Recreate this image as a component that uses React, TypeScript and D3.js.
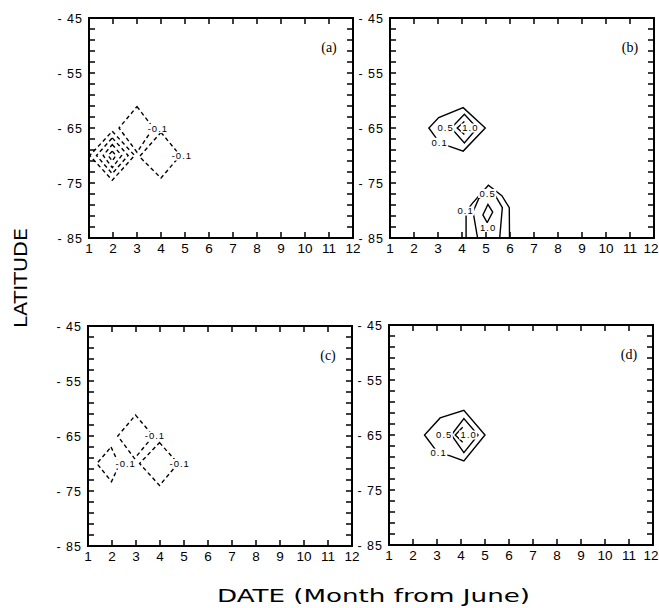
import React from "react";
import * as d3 from "d3";

// ---------- data ----------
const monthTicks = [1, 2, 3, 4, 5, 6, 7, 8, 9, 10, 11, 12];
const latLabelTicks = [-45, -55, -65, -75, -85];
const latMinorTicks = [-45, -47, -49, -51, -53, -55, -57, -59, -61, -63, -65, -67, -69, -71, -73, -75, -77, -79, -81, -83, -85];
const panelLetters = ["(a)", "(b)", "(c)", "(d)"];
const xAxisTitle = "DATE (Month from June)";
const yAxisTitle = "LATITUDE";

type Pt = [number, number];
type Contour = { level: number; closed: boolean; pts: Pt[] };
type CLabel = { text: string; m: number; lat: number };

// panel (a)
const contoursA: Contour[] = [
  { level: -0.1, closed: true, pts: [[3.0, -61.1], [3.68, -65], [3.0, -69.4], [2.25, -65]] },
  { level: -0.1, closed: true, pts: [[4.0, -65.8], [4.8, -70], [4.0, -74.1], [3.1, -70.2]] },
  { level: -0.1, closed: true, pts: [[1.97, -65.6], [2.9, -70], [1.97, -74.5], [1.03, -70]] },
  { level: -0.3, closed: true, pts: [[1.97, -66.8], [2.63, -70], [1.97, -73.3], [1.31, -70]] },
  { level: -0.5, closed: true, pts: [[1.97, -68.0], [2.36, -70], [1.97, -72.2], [1.59, -70]] },
  { level: -0.7, closed: true, pts: [[1.97, -69.2], [2.12, -70], [1.97, -71.0], [1.8, -70]] },
];
const labelsA: CLabel[] = [
  { text: "-0.1", m: 3.85, lat: -65.1 },
  { text: "-0.1", m: 4.85, lat: -70.1 },
];

// panel (b)
const contoursB: Contour[] = [
  { level: 0.1, closed: true, pts: [[2.62, -65], [3.05, -67.6], [3.45, -68.3], [4.05, -69.2], [4.97, -65], [4.05, -61.3], [3.03, -63.1]] },
  { level: 0.5, closed: true, pts: [[3.55, -65], [4.1, -62.5], [4.63, -65], [4.1, -67.7]] },
  { level: 1.0, closed: false, pts: [[4.1, -63.8], [3.8, -65], [4.1, -66.2]] },
  { level: 0.1, closed: false, pts: [[4.17, -85], [4.17, -80.2], [4.43, -78.7], [5.1, -75.4], [5.66, -77.3], [5.97, -79.5], [5.98, -85]] },
  { level: 0.5, closed: false, pts: [[4.65, -85], [4.46, -80.2], [4.7, -77.8], [5.05, -76.8], [5.39, -77.3], [5.68, -79.5], [5.57, -85]] },
  { level: 1.0, closed: true, pts: [[5.08, -78.9], [5.28, -80.3], [5.05, -82.2], [4.87, -80.8]] },
];
const labelsB: CLabel[] = [
  { text: "0.1", m: 3.05, lat: -67.6 },
  { text: "0.5", m: 3.3, lat: -65 },
  { text: "1.0", m: 4.33, lat: -65 },
  { text: "0.1", m: 4.13, lat: -80.1 },
  { text: "0.5", m: 5.05, lat: -76.9 },
  { text: "1.0", m: 5.07, lat: -83.1 },
];

// panel (c)
const contoursC: Contour[] = [
  { level: -0.1, closed: true, pts: [[2.98, -61.2], [3.72, -65], [2.94, -69.1], [2.24, -65]] },
  { level: -0.1, closed: true, pts: [[3.98, -66.2], [4.75, -70], [3.98, -74], [3.15, -70]] },
  { level: -0.1, closed: true, pts: [[1.96, -67], [2.3, -70.2], [1.98, -73.3], [1.37, -70]] },
];
const labelsC: CLabel[] = [
  { text: "-0.1", m: 3.77, lat: -65 },
  { text: "-0.1", m: 4.8, lat: -70 },
  { text: "-0.1", m: 2.55, lat: -70.1 },
];

// panel (d)
const contoursD: Contour[] = [
  { level: 0.1, closed: true, pts: [[2.48, -65], [3.03, -68.2], [3.55, -68.8], [4.12, -69.7], [5.0, -65], [4.12, -60.5], [3.13, -61.9]] },
  { level: 0.5, closed: true, pts: [[3.6, -65], [4.12, -62], [4.71, -65], [4.12, -68.2]] },
  { level: 1.0, closed: false, pts: [[4.07, -63.6], [3.76, -65], [4.07, -66.3]] },
];
const labelsD: CLabel[] = [
  { text: "0.1", m: 3.05, lat: -68.3 },
  { text: "0.5", m: 3.28, lat: -65 },
  { text: "1.0", m: 4.3, lat: -65 },
];

// ---------- layout ----------
const W = 659;
const H = 608;
const PW = 264;
const PH = 220;
const frames = [
  { x: 89, y: 18 },
  { x: 390, y: 18 },
  { x: 88, y: 326 },
  { x: 389, y: 325 },
];
const SANS = "'Liberation Sans', Arial, sans-serif";
const BIG = "'DejaVu Sans', sans-serif";
const SERIF = "'Liberation Serif', 'Times New Roman', serif";

const LABEL_FS = 9.5;
const LABEL_LS = 1;
const charW: Record<string, number> = { "0": 0.556, "1": 0.556, "5": 0.556, ".": 0.278, "-": 0.333 };
const textW = (t: string) =>
  t.split("").reduce((s, c) => s + (charW[c] ?? 0.556) * LABEL_FS + LABEL_LS, 0);

function Panel({ idx, contours, labels }: { idx: number; contours: Contour[]; labels: CLabel[] }) {
  const f = frames[idx];
  const x = d3.scaleLinear().domain([1, 12]).range([0, PW]);
  const y = d3.scaleLinear().domain([-45, -85]).range([0, PH]);
  const lineOpen = d3.line<Pt>().x((d) => x(d[0])).y((d) => y(d[1])).curve(d3.curveLinear);
  const lineClosed = d3.line<Pt>().x((d) => x(d[0])).y((d) => y(d[1])).curve(d3.curveLinearClosed);
  const maxLabelX = W - f.x - 8;
  return (
    <g transform={`translate(${f.x},${f.y})`}>
      <defs>
        <clipPath id={`clip${idx}`}>
          <rect x={0} y={0} width={PW} height={PH} />
        </clipPath>
      </defs>
      {/* contours */}
      <g clipPath={`url(#clip${idx})`}>
        {contours.map((c, i) => (
          <path
            key={i}
            d={(c.closed ? lineClosed : lineOpen)(c.pts) || ""}
            fill="none"
            stroke="#000"
            strokeWidth={1.4}
            strokeDasharray={c.level < 0 ? "4 3" : undefined}
            strokeLinejoin="miter"
          />
        ))}
      </g>
      {/* contour labels with knockout */}
      {labels.map((l, i) => {
        const w = textW(l.text);
        return (
          <g key={i}>
            <rect x={x(l.m) - w / 2 - 1} y={y(l.lat) - 4.5} width={w + 2} height={9} fill="#fff" />
            <text
              x={x(l.m) + LABEL_LS / 2}
              y={y(l.lat)}
              dy="0.35em"
              textAnchor="middle"
              fontFamily={SANS}
              fontSize={LABEL_FS}
              letterSpacing={LABEL_LS}
              fill="#000"
            >
              {l.text}
            </text>
          </g>
        );
      })}
      {/* ticks */}
      {monthTicks.map((m) => (
        <g key={"xt" + m}>
          <line x1={x(m)} x2={x(m)} y1={PH} y2={PH - 6} stroke="#000" strokeWidth={1.5} />
          <line x1={x(m)} x2={x(m)} y1={0} y2={6} stroke="#000" strokeWidth={1.5} />
          <text
            x={Math.min(x(m), maxLabelX)}
            y={PH + 15}
            textAnchor="middle"
            fontFamily={SANS}
            fontSize={13.5}
            fill="#000"
          >
            {m}
          </text>
        </g>
      ))}
      {latMinorTicks.map((v) => (
        <g key={"yt" + v}>
          <line x1={0} x2={6} y1={y(v)} y2={y(v)} stroke="#000" strokeWidth={1.5} />
          <line x1={PW} x2={PW - 6} y1={y(v)} y2={y(v)} stroke="#000" strokeWidth={1.5} />
        </g>
      ))}
      {latLabelTicks.map((v) => (
        <text
          key={"yl" + v}
          x={-6}
          y={y(v) + 4.5}
          textAnchor="end"
          fontFamily={SANS}
          fontSize={12.5}
          letterSpacing={1}
          fill="#000"
        >
          {"- " + Math.abs(v)}
        </text>
      ))}
      {/* frame */}
      <rect x={0} y={0} width={PW} height={PH} fill="none" stroke="#000" strokeWidth={2} />
      <text x={PW - 24} y={34} textAnchor="middle" fontFamily={SERIF} fontSize={14} fill="#000">
        {panelLetters[idx]}
      </text>
    </g>
  );
}

export default function App() {
  return (
    <svg
      width={W}
      height={H}
      viewBox={`0 0 ${W} ${H}`}
      style={{ position: "absolute", left: 0, top: 0, display: "block", background: "#fff" }}
    >
      <rect x={0} y={0} width={W} height={H} fill="#fff" />
      <Panel idx={0} contours={contoursA} labels={labelsA} />
      <Panel idx={1} contours={contoursB} labels={labelsB} />
      <Panel idx={2} contours={contoursC} labels={labelsC} />
      <Panel idx={3} contours={contoursD} labels={labelsD} />
      <text
        transform="translate(27,278) rotate(-90)"
        textAnchor="middle"
        fontFamily={BIG}
        fontSize={17}
        textLength={100}
        lengthAdjust="spacingAndGlyphs"
        fill="#000"
      >
        {yAxisTitle}
      </text>
      <text
        x={217}
        y={602}
        fontFamily={BIG}
        fontSize={18}
        textLength={313}
        lengthAdjust="spacingAndGlyphs"
        fill="#000"
      >
        {xAxisTitle}
      </text>
    </svg>
  );
}
